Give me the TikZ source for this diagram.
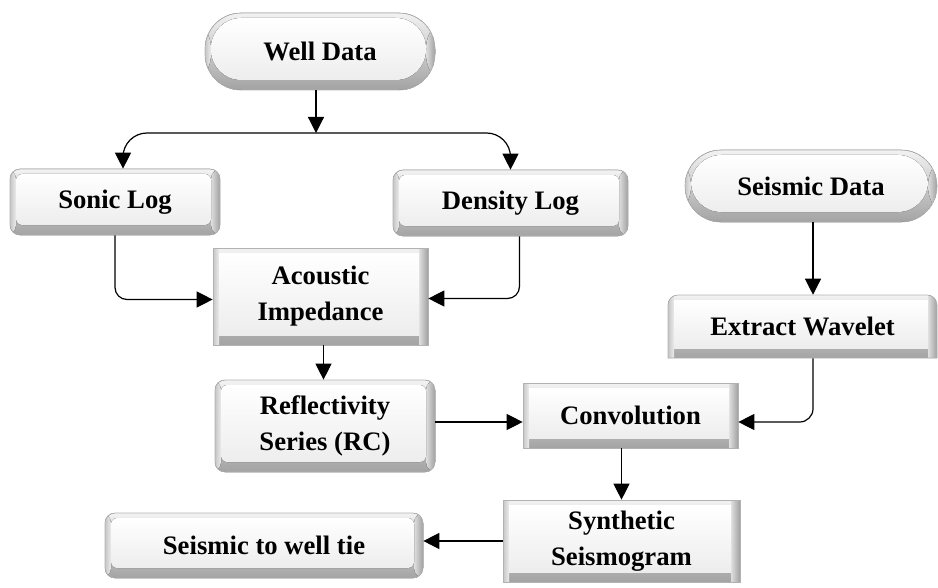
\documentclass[tikz,border=0pt]{standalone}
\usepackage{fontspec}
\setmainfont{Liberation Serif}
\usetikzlibrary{arrows.meta,calc}
\tikzset{
  % bevelled fill: dark outer rim, light inner face
  bevel/.style={path picture={
    \fill[top color=gray!10, bottom color=gray!72]
      (path picture bounding box.north west) rectangle (path picture bounding box.south east);
    \fill[left color=gray!25, right color=gray!75]
      ([xshift=-6.75pt]path picture bounding box.north east) rectangle (path picture bounding box.south east);
    \fill[left color=gray!45, right color=gray!15]
      (path picture bounding box.north west) rectangle ([xshift=4.5pt]path picture bounding box.south west);
    \fill[#1, top color=white, bottom color=gray!14]
      ([shift={(4.5pt,-3.75pt)}]path picture bounding box.north west) rectangle ([shift={(-6.75pt,7.5pt)}]path picture bounding box.south east);
  }},
  sz/.style 2 args={minimum width=#1*0.75pt, minimum height=#2*0.75pt},
  box/.style={inner sep=0pt, draw=gray!60, line width=0.5pt, align=center},
  pillbox/.style={box, rounded corners=27pt, bevel={rounded corners=22.5pt}},
  roundbox/.style={box, rounded corners=7.5pt, bevel={rounded corners=4.5pt}},
  squarebox/.style={box, sharp corners, bevel={sharp corners}},
  arr/.style={-{Triangle[length=12pt,width=12pt]}, line width=0.9pt},
}
\begin{document}
\begin{tikzpicture}[x=0.75pt,y=-0.75pt,
  font=\fontsize{20}{27}\selectfont\bfseries]
\useasboundingbox (0,0) rectangle (938,588);

% process boxes
\node[pillbox, sz={230}{77}] (wd) at (320,51.5) {Well Data};
\node[roundbox, sz={210}{66}] (sonic) at (115,202) {Sonic Log};
\node[roundbox, sz={235}{66}] (dens) at (510.5,203) {Density Log};
\node[squarebox, sz={215}{97}] (ac) at (320.5,296.5) {Acoustic\\Impedance};
\node[roundbox, sz={220}{92}] (refl) at (325,426) {Reflectivity\\Series (RC)};
\node[pillbox, sz={252}{72}] (seis) at (811,186) {Seismic Data};

% wavelet box: rounded top corners, square bottom
\coordinate (ewA) at (668,295);
\coordinate (ewB) at (937,358);
\path[draw=gray!60, line width=0.5pt, bevel={sharp corners}]
  (ewA |- ewB) [rounded corners=7.5pt] -- (ewA) -- (ewB |- ewA) [sharp corners] -- (ewB) -- cycle;
\node[inner sep=0pt, sz={269}{63}] (ew) at (802.5,326.5) {Extract Wavelet};

\node[squarebox, sz={215}{65}] (conv) at (630.5,415.5) {Convolution};
\node[squarebox, sz={237}{82}] (synth) at (621.5,541) {Synthetic\\Seismogram};
\node[roundbox, sz={318}{65}] (tie) at (264,545.5) {Seismic to well tie};

% connectors
\coordinate (split) at (316,133);
\coordinate (rc) at (0,422);
\coordinate (wx) at (813,0);
\draw[arr] (wd.south -| split) -- (split);
\draw[arr, rounded corners=18pt] (split) -| ($(sonic.north)+(8,0)$);
\draw[arr, rounded corners=18pt] (split) -| (dens.north);
\draw[arr, rounded corners=9pt] (sonic.south) |- ($(ac.west)+(0,3)$);
\draw[arr, rounded corners=9pt] ($(dens.south)+(9,0)$) |- ($(ac.east)+(0,2)$);
\draw[arr] ($(ac.south)+(3,0)$) -- ($(ac.south |- refl.north)+(3,0)$);
\draw[arr] (refl.east |- rc) -- (conv.west |- rc);
\draw[arr] (seis.south -| wx) -- (ew.north -| wx);
\draw[arr, rounded corners=10pt] (ew.south -| wx) |- (conv.east |- rc);
\draw[arr] (conv.south -| synth.north) -- (synth.north);
\draw[arr] (synth.west) -- (tie.east |- synth.west);
\end{tikzpicture}
\end{document}
